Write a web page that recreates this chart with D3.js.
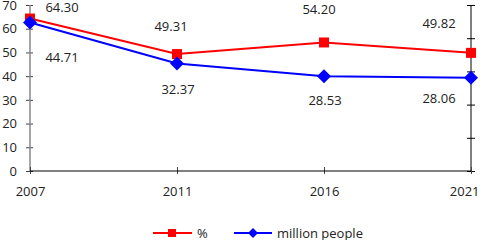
<!DOCTYPE html>
<html><head><meta charset="utf-8">
<script src="https://cdn.jsdelivr.net/npm/d3@7"></script>
<style>body{margin:0;background:#fff}svg{display:block}text{font-family:"Open Sans",sans-serif;font-size:13px;fill:#222}</style>
</head><body><svg width="480" height="240"></svg>
<script>
const years = ["2007","2011","2016","2021"];
const pctValues = [64.30, 49.31, 54.20, 49.82];
const peopleValues = [44.71, 32.37, 28.53, 28.06];
const leftTicks = [0,10,20,30,40,50,60,70];
const rightTicks = [0,10,20,30,40,50];
const seriesNames = ["%", "million people"];

const svg = d3.select("svg");
const x = d3.scalePoint().domain(years).range([30, 471]);
const yL = d3.scaleLinear().domain([0,70]).range([171, 5]);
const yR = d3.scaleLinear().domain([0,50]).range([171, 5]);

// left axis
const la = svg.append("g").attr("transform","translate(30,0)")
  .call(d3.axisLeft(yL).tickValues(leftTicks).tickSize(4).tickPadding(9));
la.select(".domain").remove();
la.append("line").attr("y1",yL(0)).attr("y2",yL(70)).attr("stroke","#888").attr("stroke-width",1.5);
la.selectAll(".tick line").attr("x2",-4).attr("x1",3).attr("stroke","#444");
la.selectAll(".tick text").attr("fill","#222").style("font-size","13px").style("font-family","Open Sans");
la.selectAll(".tick").filter(d=>d===70).select("text").attr("dy","0.36em");

// right axis (no labels)
const ra = svg.append("g").attr("transform","translate(471,0)")
  .call(d3.axisRight(yR).tickValues(rightTicks).tickSize(4).tickFormat(""));
ra.select(".domain").remove();
ra.append("line").attr("y1",yR(0)).attr("y2",yR(50)).attr("stroke","#000");
ra.selectAll(".tick line").attr("x1",-4).attr("x2",4).attr("stroke","#000");

// x axis
const xa = svg.append("g").attr("transform","translate(0,171)")
  .call(d3.axisBottom(x).tickSize(4).tickPadding(12));
xa.select(".domain").remove();
xa.append("line").attr("x1",30).attr("x2",471).attr("stroke","#000");
xa.selectAll(".tick line").attr("y1",-4).attr("y2",3).attr("stroke","#444");
xa.selectAll(".tick text").attr("fill","#222").style("font-size","13px").style("font-family","Open Sans");
xa.selectAll(".tick").filter(d=>d===years[years.length-1]).select("text")
  .attr("text-anchor","end").attr("x",8);

const line = (ys, vals) => d3.line().x((d,i)=>x(years[i])).y(d=>ys(d))(vals);

svg.append("path").attr("d", line(yL, pctValues)).attr("fill","none").attr("stroke","#f00").attr("stroke-width",2);
svg.append("path").attr("d", line(yR, peopleValues)).attr("fill","none").attr("stroke","#00f").attr("stroke-width",2);

svg.selectAll(".sq").data(pctValues).enter().append("rect")
  .attr("x",(d,i)=>x(years[i])-5).attr("y",d=>yL(d)-5).attr("width",10).attr("height",10).attr("fill","#f00");
svg.selectAll(".dm").data(peopleValues).enter().append("path")
  .attr("d","M0,-7L7,0L0,7L-7,0Z")
  .attr("transform",(d,i)=>`translate(${x(years[i])},${yR(d)})`).attr("fill","#00f");

// label offsets (layout)
const redOff = [[32,-12],[-6,-28],[-5,-33],[-32,-30]];
const blueOff = [[32,34],[1,25.5],[1,24],[-32,20]];
svg.selectAll(".rl").data(pctValues).enter().append("text")
  .attr("x",(d,i)=>x(years[i])+redOff[i][0]).attr("y",(d,i)=>yL(d)+redOff[i][1])
  .attr("text-anchor","middle").attr("dominant-baseline","central").text(d=>d.toFixed(2));
svg.selectAll(".bl").data(peopleValues).enter().append("text")
  .attr("x",(d,i)=>x(years[i])+blueOff[i][0]).attr("y",(d,i)=>yR(d)+blueOff[i][1])
  .attr("text-anchor","middle").attr("dominant-baseline","central").text(d=>d.toFixed(2));

// legend
const lg = svg.append("g");
lg.append("line").attr("x1",153).attr("x2",192).attr("y1",233).attr("y2",233).attr("stroke","#f00").attr("stroke-width",2);
lg.append("rect").attr("x",168).attr("y",229).attr("width",8).attr("height",8).attr("fill","#f00");
lg.append("text").attr("x",197).attr("y",233).attr("dominant-baseline","central").text(seriesNames[0]);
lg.append("line").attr("x1",234).attr("x2",272).attr("y1",233).attr("y2",233).attr("stroke","#00f").attr("stroke-width",2);
lg.append("path").attr("d","M0,-5L5,0L0,5L-5,0Z").attr("transform","translate(253,233)").attr("fill","#00f");
lg.append("text").attr("x",277).attr("y",233).attr("dominant-baseline","central").text(seriesNames[1]);
</script></body></html>
